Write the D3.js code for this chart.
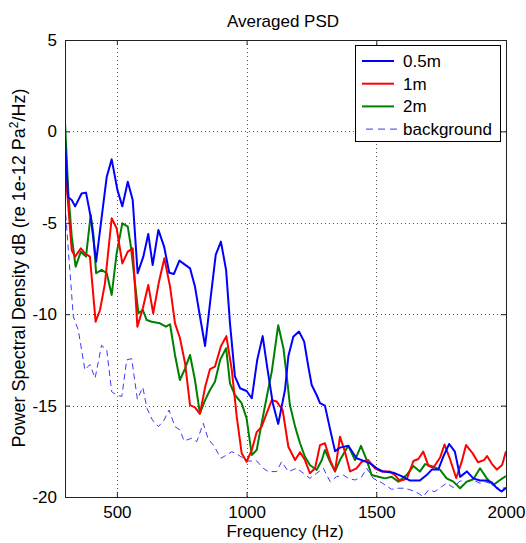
<!DOCTYPE html>
<html><head><meta charset="utf-8">
<script src="https://cdn.jsdelivr.net/npm/d3@7"></script>
<style>body{margin:0;background:#fff}svg{display:block}text{font-family:"Liberation Sans",Arial,Helvetica,sans-serif;fill:#000}</style>
</head><body><svg id="c" width="526" height="543"></svg>
<script>
const xTicks=[500,1000,1500,2000];
const yTicks=[-20,-15,-10,-5,0,5];
const seriesNames=["0.5m","1m","2m","background"];
const seriesColors=["#0000ff","#ff0000","#008000","#3a3aff"];
const blue05=[[300,-0.5],[312,-3.6],[326,-3.75],[339,-4.1],[364,-3.4],[381,-3.35],[399,-4.67],[420,-7.13],[448,-3.94],[461,-2.48],[480,-1.53],[502,-3.2],[521,-4.1],[542,-2.75],[561,-3.75],[580,-7.76],[602,-6.85],[621,-5.61],[638,-7.31],[660,-5.39],[682,-6.3],[702,-7.73],[720,-7.8],[741,-7.07],[782,-7.49],[801,-8.49],[820,-10.1],[840,-11.74],[859,-9.4],[881,-6.76],[901,-6.03],[921,-7.58],[936,-10.5],[955,-13.4],[975,-14.05],[1000,-14.2],[1020,-14.6],[1041,-12.5],[1062,-11.2],[1081,-13.05],[1101,-14.87],[1122,-16.0],[1148,-14.15],[1161,-12.3],[1180,-11.23],[1202,-10.95],[1222,-11.5],[1238,-12.87],[1251,-13.87],[1270,-14.42],[1283,-14.87],[1302,-15.0],[1322,-16.3],[1341,-17.5],[1360,-17.3],[1392,-17.2],[1424,-17.88],[1444,-17.98],[1476,-18.16],[1502,-18.43],[1527,-18.61],[1566,-18.67],[1604,-18.9],[1630,-19.1],[1668,-19.1],[1694,-18.8],[1714,-18.5],[1739,-18.5],[1758,-17.8],[1781,-17.1],[1803,-17.52],[1823,-18.9],[1849,-18.6],[1874,-18.98],[1900,-19.1],[1926,-19.1],[1945,-19.2],[1964,-19.5],[1983,-19.7],[2000,-19.5]];
const red1=[[300,-1.8],[326,-6.5],[339,-6.85],[361,-6.4],[377,-6.67],[396,-6.85],[418,-10.41],[435,-9.77],[454,-8.31],[480,-4.75],[499,-5.3],[521,-7.22],[542,-6.58],[561,-6.4],[579,-10.68],[600,-9.68],[621,-8.4],[640,-9.95],[661,-8.31],[683,-6.94],[705,-8.49],[724,-10.5],[743,-11.3],[763,-12.7],[782,-14.97],[801,-15.1],[820,-15.45],[840,-14.0],[859,-13.0],[878,-12.87],[901,-11.75],[922,-11.2],[943,-13.05],[962,-15.6],[981,-17.6],[1000,-18.07],[1020,-17.43],[1039,-16.45],[1058,-16.15],[1078,-15.4],[1097,-14.7],[1116,-14.78],[1139,-15.24],[1161,-17.25],[1187,-17.98],[1206,-17.55],[1225,-17.98],[1244,-18.7],[1264,-18.43],[1283,-17.16],[1302,-17.06],[1322,-17.98],[1341,-18.6],[1360,-16.7],[1379,-17.52],[1399,-18.6],[1424,-18.43],[1444,-18.07],[1469,-17.98],[1495,-18.43],[1521,-18.61],[1553,-18.61],[1572,-18.8],[1591,-19.12],[1618,-19.0],[1643,-18.03],[1662,-17.92],[1681,-17.52],[1701,-18.3],[1720,-18.4],[1746,-17.84],[1763,-17.13],[1784,-17.92],[1808,-18.96],[1829,-18.08],[1846,-17.16],[1871,-17.6],[1892,-18.1],[1915,-17.98],[1927,-17.76],[1946,-18.2],[1965,-18.5],[1985,-18.25],[2000,-17.5]];
const green2=[[300,0.53],[313,-3.39],[326,-5.76],[341,-7.4],[361,-6.58],[381,-6.85],[399,-4.57],[409,-5.58],[420,-7.76],[441,-7.58],[461,-7.76],[480,-8.95],[499,-6.67],[521,-5.03],[542,-5.21],[554,-6.3],[570,-8.31],[583,-9.95],[600,-9.77],[615,-10.32],[634,-10.41],[666,-10.5],[689,-10.68],[705,-10.55],[724,-12.23],[743,-13.6],[763,-12.96],[782,-12.23],[801,-13.6],[820,-15.42],[840,-14.7],[859,-14.15],[878,-13.7],[898,-12.5],[921,-11.86],[936,-13.78],[955,-14.42],[981,-14.87],[1000,-15.7],[1020,-17.7],[1039,-17.43],[1058,-15.97],[1078,-14.5],[1097,-13.14],[1122,-10.6],[1142,-11.86],[1155,-13.42],[1167,-14.97],[1187,-16.15],[1206,-17.06],[1225,-17.8],[1244,-18.25],[1270,-18.52],[1290,-17.98],[1302,-17.43],[1322,-18.07],[1341,-18.6],[1360,-17.98],[1392,-17.2],[1418,-17.98],[1441,-17.2],[1463,-17.98],[1482,-18.8],[1508,-18.89],[1534,-18.98],[1559,-18.89],[1585,-19.16],[1617,-18.8],[1643,-18.3],[1668,-18.61],[1688,-18.2],[1720,-18.34],[1746,-18.52],[1771,-18.98],[1797,-19.16],[1823,-19.52],[1849,-19.16],[1874,-19.03],[1900,-18.43],[1926,-18.98],[1951,-19.34],[1977,-19.07],[2000,-18.85]];
const background=[[300,-4.0],[313,-6.5],[332,-10.13],[351,-10.86],[377,-13.05],[396,-12.75],[416,-13.5],[441,-11.7],[461,-11.96],[480,-14.24],[499,-14.42],[519,-14.5],[538,-12.5],[557,-12.43],[579,-14.65],[600,-14.0],[616,-15.15],[637,-15.79],[660,-16.15],[682,-15.79],[701,-15.24],[724,-16.15],[743,-16.33],[759,-16.93],[788,-16.79],[808,-16.97],[833,-15.97],[852,-16.83],[872,-17.16],[901,-17.88],[923,-17.7],[943,-17.52],[965,-17.67],[1004,-18.03],[1039,-18.03],[1064,-18.43],[1084,-18.61],[1116,-18.61],[1135,-18.07],[1161,-18.61],[1193,-18.43],[1219,-18.7],[1244,-18.98],[1270,-18.7],[1296,-18.43],[1322,-19.16],[1347,-18.89],[1373,-18.8],[1392,-18.98],[1418,-19.07],[1444,-18.89],[1463,-18.43],[1488,-18.98],[1514,-19.16],[1534,-19.34],[1559,-19.58],[1585,-19.52],[1611,-19.52],[1637,-19.64],[1662,-19.8],[1681,-19.98],[1701,-19.62],[1726,-19.7],[1752,-19.43],[1771,-19.25],[1797,-19.48],[1823,-19.12],[1849,-19.16],[1874,-19.07],[1900,-19.25],[1919,-19.16],[1938,-19.25],[1964,-19.5],[1983,-19.52],[2000,-19.5]];
const allSeries=[blue05,red1,green2,background];

const svg=d3.select("#c");
const L=65,R=506,T=40,B=497;
const x=d3.scaleLinear().domain([300,2000]).range([L,R]);
const y=d3.scaleLinear().domain([-20,5]).range([B,T]);
const fs=17;

// grid
const grid=svg.append("g").attr("stroke","#555").attr("stroke-width",1).attr("stroke-dasharray","1,3");
xTicks.filter(t=>t<2000).forEach(t=>grid.append("line").attr("x1",Math.round(x(t))+0.5).attr("x2",Math.round(x(t))+0.5).attr("y1",T).attr("y2",B));
yTicks.filter(t=>t>-20&&t<5).forEach(t=>grid.append("line").attr("y1",Math.round(y(t))+0.5).attr("y2",Math.round(y(t))+0.5).attr("x1",L).attr("x2",R));

svg.append("defs").append("clipPath").attr("id","clip").append("rect").attr("x",L).attr("y",T).attr("width",R-L).attr("height",B-T);
const line=d3.line().x(d=>x(d[0])).y(d=>y(d[1]));
const lines=svg.append("g").attr("clip-path","url(#clip)");
[3,2,1,0].forEach(i=>{
  lines.append("path").datum(allSeries[i]).attr("d",line).attr("fill","none")
   .attr("stroke",seriesColors[i]).attr("stroke-width",i===3?1:2).attr("stroke-linejoin","round")
   .attr("stroke-dasharray",i===3?"6,4":null);
});

// axes
const axB=svg.append("g").attr("transform",`translate(0,${B})`).call(d3.axisBottom(x).tickValues(xTicks).tickSize(-5).tickPadding(9).tickFormat(d3.format("d")));
const axT=svg.append("g").attr("transform",`translate(0,${T})`).call(d3.axisTop(x).tickValues(xTicks).tickSize(-5).tickFormat(""));
const axL=svg.append("g").attr("transform",`translate(${L},0)`).call(d3.axisLeft(y).tickValues(yTicks).tickSize(-5).tickPadding(8).tickFormat(d=>d<0?"-"+Math.abs(d):String(d)));
const axR=svg.append("g").attr("transform",`translate(${R},0)`).call(d3.axisRight(y).tickValues(yTicks).tickSize(-5).tickFormat(""));
[axB,axT,axL,axR].forEach(a=>{a.select(".domain").attr("stroke","#222");a.selectAll("line").attr("stroke","#222");a.selectAll("text").attr("font-size",fs).attr("font-family",'"Liberation Sans",Arial,sans-serif');});

svg.append("text").attr("x",283).attr("y",27).attr("text-anchor","middle").attr("font-size",fs).text("Averaged PSD");
svg.append("text").attr("x",285).attr("y",537).attr("text-anchor","middle").attr("font-size",fs).text("Frequency (Hz)");
const yl=svg.append("text").attr("transform","translate(25,268) rotate(-90)").attr("text-anchor","middle").attr("font-size",18);
yl.append("tspan").text("Power Spectral Density dB (re 1e-12 Pa");
yl.append("tspan").attr("dy",-7).attr("font-size",12).text("2");
yl.append("tspan").attr("dy",7).text("/Hz)");

// legend
const lg=svg.append("g");
lg.append("rect").attr("x",355.5).attr("y",45.5).attr("width",145).attr("height",96).attr("fill","#fff").attr("stroke","#000");
seriesNames.forEach((n,i)=>{
  const yy=61+i*22.7;
  lg.append("line").attr("x1",362).attr("x2",i===3?399:394).attr("y1",yy).attr("y2",yy).attr("stroke",seriesColors[i])
    .attr("stroke-width",i===3?1:2).attr("stroke-dasharray",i===3?"7,5":null).attr("stroke-dashoffset",i===3?-4:0);
  lg.append("text").attr("x",403).attr("y",yy+6).attr("font-size",fs).text(n);
});
</script></body></html>
